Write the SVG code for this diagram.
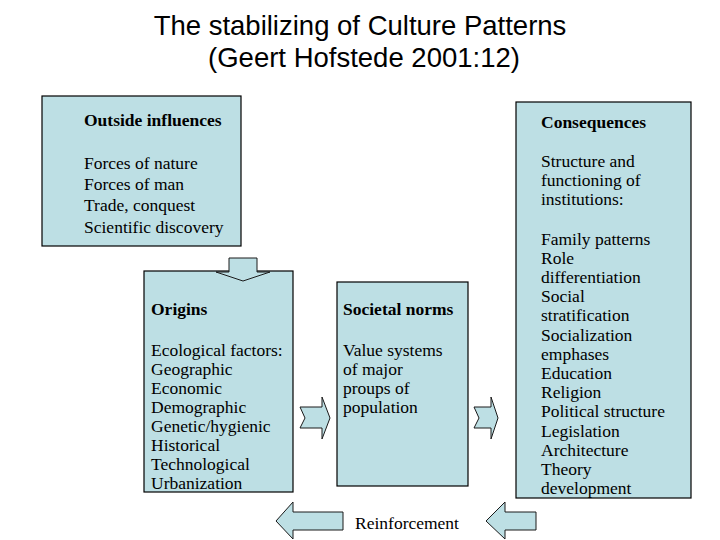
<svg xmlns="http://www.w3.org/2000/svg" width="720" height="540" viewBox="0 0 720 540">
<style>
.title{font-family:"Liberation Sans",Arial,sans-serif;font-size:27.5px;fill:#000;text-anchor:middle}
.box{fill:#BDDFE4;stroke:#000;stroke-width:1.2}
.arrow{fill:#BDDFE4;stroke:#1a1a1a;stroke-width:1}
.t{font-family:"Liberation Serif","Times New Roman",serif;font-size:17.5px;fill:#000}
.b{font-weight:bold}
</style>
<rect width="720" height="540" fill="#fff"/>
<g id="title">
<text class="title" x="360" y="35">The stabilizing of Culture Patterns</text>
<text class="title" x="364" y="67">(Geert Hofstede 2001:12)</text>
</g>
<g id="outside">
<rect class="box" x="42" y="96" width="199" height="150"/>
<text class="t b" x="84" y="126">Outside influences</text>
<text class="t" x="84" y="169">Forces of nature</text>
<text class="t" x="84" y="190">Forces of man</text>
<text class="t" x="84" y="211">Trade, conquest</text>
<text class="t" x="84" y="233">Scientific discovery</text>
</g>
<g id="origins">
<rect class="box" x="144" y="271" width="149" height="221"/>
<text class="t b" x="151" y="315">Origins</text>
<text class="t" x="151" y="356">Ecological factors:</text>
<text class="t" x="151" y="375">Geographic</text>
<text class="t" x="151" y="394">Economic</text>
<text class="t" x="151" y="413">Demographic</text>
<text class="t" x="151" y="432">Genetic/hygienic</text>
<text class="t" x="151" y="451">Historical</text>
<text class="t" x="151" y="470">Technological</text>
<text class="t" x="151" y="489">Urbanization</text>
</g>
<g id="societal">
<rect class="box" x="337" y="282" width="131" height="204"/>
<text class="t b" x="343" y="315">Societal norms</text>
<text class="t" x="343" y="356">Value systems</text>
<text class="t" x="343" y="375">of major</text>
<text class="t" x="343" y="394">proups of</text>
<text class="t" x="343" y="413">population</text>
</g>
<g id="consequences">
<rect class="box" x="516" y="102" width="175" height="396"/>
<text class="t b" x="541" y="128">Consequences</text>
<text class="t" x="541" y="167">Structure and</text>
<text class="t" x="541" y="186">functioning of</text>
<text class="t" x="541" y="205">institutions:</text>
<text class="t" x="541" y="245">Family patterns</text>
<text class="t" x="541" y="264">Role</text>
<text class="t" x="541" y="283">differentiation</text>
<text class="t" x="541" y="302">Social</text>
<text class="t" x="541" y="321">stratification</text>
<text class="t" x="541" y="341">Socialization</text>
<text class="t" x="541" y="360">emphases</text>
<text class="t" x="541" y="379">Education</text>
<text class="t" x="541" y="398">Religion</text>
<text class="t" x="541" y="417">Political structure</text>
<text class="t" x="541" y="437">Legislation</text>
<text class="t" x="541" y="456">Architecture</text>
<text class="t" x="541" y="475">Theory</text>
<text class="t" x="541" y="494">development</text>
</g>
<g id="connectors">
<polygon class="arrow" points="229,258 257,258 257,272 270,272 243,281 216,272 229,272"/>
<polygon class="arrow" points="300,407 322,407 322,397 330,418 322,439 322,428 300,428 305,418"/>
<polygon class="arrow" points="474,407 491,407 491,397 498,418 491,439 491,428 474,428 479,418"/>
<polygon class="arrow" points="343,512 293,512 293,502 276,521 293,539 293,530 343,530"/>
<polygon class="arrow" points="536,512 505,512 505,502 486,521 505,539 505,530 536,530"/>
<text class="t" x="355" y="529">Reinforcement</text>
</g>
</svg>
